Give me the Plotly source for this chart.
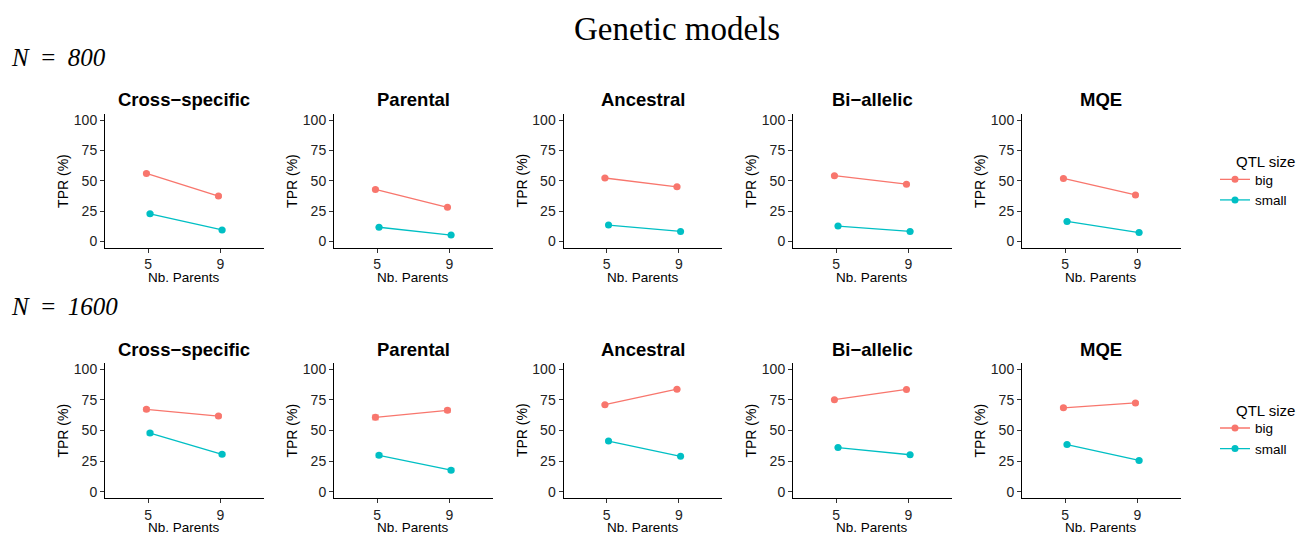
import plotly.graph_objects as go

W, H = 1303, 536

models = ["Cross\u2212specific", "Parental", "Ancestral", "Bi\u2212allelic", "MQE"]
nb_parents = ["5", "9"]
qtl_sizes = ["big", "small"]
colors = {"big": "#F8766D", "small": "#00BFC4"}

# TPR (%) values, [model][nb_parents]
n800_big = [[56.2, 37.5], [43.0, 28.2], [52.4, 45.1], [54.3, 47.3], [52.0, 38.4]]
n800_small = [[22.9, 9.6], [11.8, 5.4], [13.6, 8.4], [12.8, 8.4], [16.6, 7.4]]
n1600_big = [[67.3, 61.8], [60.8, 66.5], [71.1, 83.8], [75.2, 83.6], [68.6, 72.6]]
n1600_small = [[47.9, 30.5], [29.7, 17.6], [41.4, 28.9], [36.1, 30.2], [38.5, 25.5]]
# standard errors (approximate)
n800_big_se = [[1.5, 1.5], [1.5, 1.3], [1.3, 1.3], [1.4, 1.4], [1.4, 1.5]]
n800_small_se = [[1.4, 1.2], [1.1, 0.9], [1.0, 0.9], [1.0, 0.9], [1.1, 0.9]]
n1600_big_se = [[2.0, 1.8], [2.5, 2.2], [1.3, 1.2], [1.2, 1.1], [1.6, 1.5]]
n1600_small_se = [[2.0, 1.8], [2.2, 2.0], [1.3, 1.2], [1.2, 1.1], [1.5, 1.4]]

rows = [
    {"label": "800", "big": n800_big, "small": n800_small,
     "big_se": n800_big_se, "small_se": n800_small_se},
    {"label": "1600", "big": n1600_big, "small": n1600_small,
     "big_se": n1600_big_se, "small_se": n1600_small_se},
]

FONT = "Liberation Sans, Arial, sans-serif"
SERIF = "Liberation Serif, Times New Roman, serif"

# layout geometry in pixels
panel_left = [105, 334, 563.5, 793, 1022]
panel_w = 158.5
row_top = [113, 364]
row_bot = [247.5, 499.5]
title_y = [98.5, 350.5]
legend_title_y = [161, 412]
legend_items_y = [189.5, 440]
dodge = {"big": -0.025, "small": 0.025}


def px_x(x):
    return x / W


def px_y(y):
    return 1 - y / H


def rgba(hexc, a):
    h = hexc.lstrip("#")
    r, g, b = int(h[0:2], 16), int(h[2:4], 16), int(h[4:6], 16)
    return f"rgba({r},{g},{b},{a})"


fig = go.Figure()
annotations = []
layout_axes = {}

for ri, row in enumerate(rows):
    for mi, model in enumerate(models):
        idx = ri * 5 + mi + 1
        xa = "x" if idx == 1 else f"x{idx}"
        ya = "y" if idx == 1 else f"y{idx}"
        xkey = "xaxis" if idx == 1 else f"xaxis{idx}"
        ykey = "yaxis" if idx == 1 else f"yaxis{idx}"
        for q in qtl_sizes:
            vals = row[q][mi]
            ses = row[q + "_se"][mi]
            xs = [i + 1 + dodge[q] for i in range(len(nb_parents))]
            fig.add_trace(go.Scatter(
                x=xs, y=vals, xaxis=xa, yaxis=ya,
                mode="lines+markers",
                name=q,
                legendgroup=f"{q}{ri}",
                legend="legend" if ri == 0 else "legend2",
                showlegend=(mi == 4),
                line=dict(color=colors[q], width=1.3),
                marker=dict(color=colors[q], size=7),
                error_y=dict(type="data", array=ses, visible=True,
                             color=rgba(colors[q], 0.45), thickness=7, width=0),
            ))
        x0 = panel_left[mi]
        x1 = x0 + panel_w
        layout_axes[xkey] = dict(
            domain=[px_x(x0), px_x(x1)], anchor=ya, range=[0.4, 2.6],
            tickvals=[1, 2], ticktext=nb_parents,
            showline=True, linecolor="black", linewidth=1,
            ticks="outside", ticklen=4, tickcolor="#333333", tickwidth=1,
            showgrid=False, zeroline=False,
            tickfont=dict(family=FONT, size=14, color="#222222"),
        )
        layout_axes[ykey] = dict(
            domain=[px_y(row_bot[ri]), px_y(row_top[ri])], anchor=xa,
            range=[-5, 105], tickvals=[0, 25, 50, 75, 100],
            showline=True, linecolor="black", linewidth=1,
            ticks="outside", ticklen=4, tickcolor="#333333", tickwidth=1,
            showgrid=False, zeroline=False,
            tickfont=dict(family=FONT, size=14, color="#222222"),
        )
        cx = x0 + panel_w / 2
        # panel title
        annotations.append(dict(
            text=f"<b>{model}</b>", x=px_x(cx), y=px_y(title_y[ri]),
            xref="paper", yref="paper", xanchor="center", yanchor="middle",
            showarrow=False, font=dict(family=FONT, size=18.5, color="black"),
        ))
        # x title
        annotations.append(dict(
            text="Nb. Parents", x=px_x(cx), y=px_y(row_bot[ri] + 30),
            xref="paper", yref="paper", xanchor="center", yanchor="middle",
            showarrow=False, font=dict(family=FONT, size=13.5, color="black"),
        ))
        # y title
        annotations.append(dict(
            text="TPR (%)", x=px_x(x0 - 42), y=px_y((row_top[ri] + row_bot[ri]) / 2),
            xref="paper", yref="paper", xanchor="center", yanchor="middle",
            textangle=-90, showarrow=False,
            font=dict(family=FONT, size=14, color="black"),
        ))
    # row label
    annotations.append(dict(
        text=f"<i>N</i>\u2002=\u2002<i>{row['label']}</i>",
        x=px_x(9), y=px_y(row_top[ri] - 57),
        xref="paper", yref="paper", xanchor="left", yanchor="middle",
        showarrow=False, font=dict(family=SERIF, size=25, color="black"),
    ))
    # legend title
    annotations.append(dict(
        text="QTL size", x=px_x(1234), y=px_y(legend_title_y[ri]),
        xref="paper", yref="paper", xanchor="left", yanchor="middle",
        showarrow=False, font=dict(family=FONT, size=15, color="black"),
    ))

annotations.append(dict(
    text="Genetic models", x=px_x(677), y=px_y(27),
    xref="paper", yref="paper", xanchor="center", yanchor="middle",
    showarrow=False, font=dict(family=SERIF, size=33, color="black"),
))

legend_common = dict(
    xanchor="left", yanchor="middle", bgcolor="rgba(0,0,0,0)",
    font=dict(family=FONT, size=13.5, color="black"),
    tracegroupgap=0, itemwidth=30,
)

fig.update_layout(
    width=W, height=H, margin=dict(l=0, r=0, t=0, b=0),
    paper_bgcolor="white", plot_bgcolor="white",
    annotations=annotations,
    legend=dict(x=px_x(1215), y=px_y(legend_items_y[0]), **legend_common),
    legend2=dict(x=px_x(1215), y=px_y(legend_items_y[1]), **legend_common),
    **layout_axes,
)

fig.write_html(
    "out.html",
    config={"displayModeBar": False},
    post_script="document.body.style.margin='0';document.body.style.overflow='hidden';",
)
